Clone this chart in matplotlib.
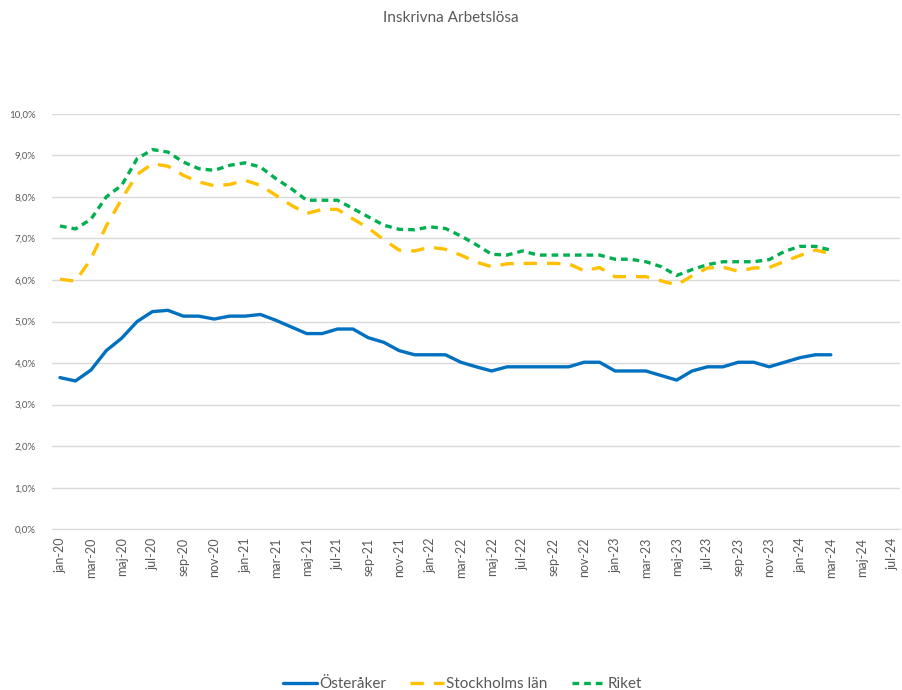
import matplotlib.pyplot as plt
from matplotlib.ticker import FuncFormatter

plt.rcParams['font.family'] = ['Lato', 'DejaVu Sans']

# månader jan-20 .. jul-24 (axeln), data t.o.m. mar-24
months = ['jan', 'feb', 'mar', 'apr', 'maj', 'jun', 'jul', 'aug', 'sep', 'okt', 'nov', 'dec']
years = ['20', '21', '22', '23', '24']
month_labels = [m + '-' + y for y in years for m in months][:55]

osteraker = [3.65, 3.57, 3.83, 4.3, 4.6, 5.0, 5.24, 5.27, 5.13, 5.13, 5.06, 5.13,
             5.13, 5.17, 5.03, 4.87, 4.71, 4.71, 4.82, 4.82, 4.61, 4.5, 4.3, 4.2,
             4.2, 4.2, 4.02, 3.91, 3.81, 3.91, 3.91, 3.91, 3.91, 3.91, 4.02, 4.02,
             3.81, 3.81, 3.81, 3.7, 3.59, 3.81, 3.91, 3.91, 4.02, 4.02, 3.91, 4.02,
             4.13, 4.2, 4.2]

stockholm = [6.02, 5.97, 6.5, 7.3, 7.95, 8.54, 8.8, 8.74, 8.52, 8.36, 8.27, 8.3,
             8.4, 8.28, 8.04, 7.8, 7.6, 7.7, 7.7, 7.47, 7.25, 6.97, 6.72, 6.7,
             6.79, 6.74, 6.6, 6.43, 6.32, 6.39, 6.4, 6.4, 6.4, 6.39, 6.22, 6.3,
             6.08, 6.08, 6.08, 5.98, 5.88, 6.1, 6.29, 6.31, 6.21, 6.29, 6.3, 6.45,
             6.59, 6.72, 6.64]

riket = [7.3, 7.23, 7.46, 8.0, 8.28, 8.92, 9.14, 9.08, 8.84, 8.68, 8.64, 8.76,
         8.82, 8.72, 8.44, 8.2, 7.92, 7.92, 7.92, 7.72, 7.52, 7.32, 7.22, 7.21,
         7.28, 7.24, 7.06, 6.85, 6.62, 6.6, 6.7, 6.6, 6.6, 6.6, 6.6, 6.6,
         6.5, 6.5, 6.44, 6.32, 6.11, 6.25, 6.37, 6.44, 6.44, 6.44, 6.49, 6.69,
         6.81, 6.81, 6.72]

grey = '#595959'

fig = plt.figure(figsize=(9.02, 6.9), dpi=100)
ax = fig.add_axes([0.058, 0.233, 0.94, 0.602])

x = range(len(osteraker))
ax.plot(x, osteraker, color='#0070C0', linewidth=2.4, label='Österåker',
        solid_capstyle='round', solid_joinstyle='round')
ax.plot(x, stockholm, color='#FFC000', linewidth=2.4, linestyle=(0, (4, 3)),
        label='Stockholms län')
ax.plot(x, riket, color='#00B050', linewidth=2.4, linestyle=(0, (2, 1.5)),
        label='Riket')

ax.set_ylim(0, 10)
ax.set_yticks(range(0, 11))
ax.yaxis.set_major_formatter(FuncFormatter(lambda v, p: f'{v:.1f}%'.replace('.', ',')))
ax.set_xlim(-0.5, len(month_labels) - 0.5)
ax.set_xticks(range(0, len(month_labels), 2))
ax.set_xticklabels(month_labels[::2], rotation=90)

ax.grid(axis='y', color='#d9d9d9', linewidth=1)
ax.set_axisbelow(True)
for s in ['top', 'right', 'left']:
    ax.spines[s].set_visible(False)
ax.spines['bottom'].set_color('#d9d9d9')
ax.tick_params(axis='both', length=0, colors=grey)
ax.tick_params(axis='y', labelsize=7, pad=12)
ax.tick_params(axis='x', labelsize=9, pad=6)

fig.text(0.5, 0.974, 'Inskrivna Arbetslösa', ha='center', va='center',
         fontsize=11, color=grey)

fig.legend(loc='center', bbox_to_anchor=(0.513, 0.008), ncol=3, frameon=False,
           fontsize=11, labelcolor=grey, handlelength=2.2, columnspacing=1.6,
           handletextpad=0.15)

plt.savefig('out.png', dpi=100)
